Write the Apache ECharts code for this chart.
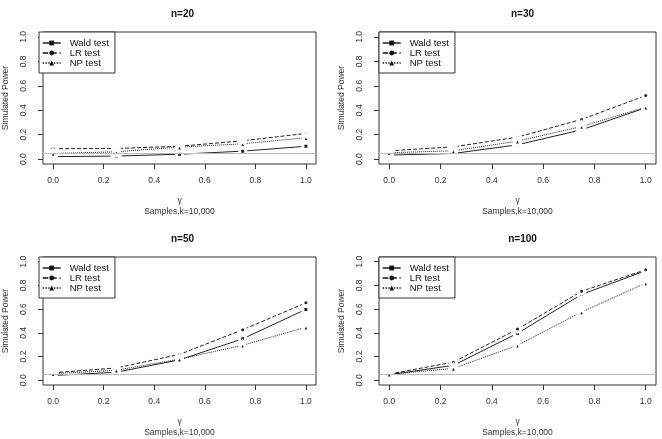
<!DOCTYPE html>
<html>
<head>
<meta charset="utf-8">
<script src="https://cdn.jsdelivr.net/npm/echarts@6/dist/echarts.min.js"></script>
<style>
    html, body { margin: 0; padding: 0; background: #fff; }
    #chart { width: 662px; height: 439px; }
</style>
</head>
<body>
<div id="chart"></div>
<script>
// gamma values at which power was simulated
const gammaValues = [0, 0.25, 0.5, 0.75, 1];
const tickValues = [0, 0.2, 0.4, 0.6, 0.8, 1];
const panelTitles = ["n=20", "n=30", "n=50", "n=100"];
const testNames = ["Wald test", "LR test", "NP test"];
const alphaLevel = 0.05;

// simulated power, one array per test and sample size
const wald20 = [0.02, 0.025, 0.04, 0.065, 0.105];
const lr20 = [0.085, 0.087, 0.105, 0.15, 0.21];
const np20 = [0.045, 0.06, 0.098, 0.125, 0.175];

const wald30 = [0.033, 0.046, 0.117, 0.24, 0.42];
const lr30 = [0.068, 0.1, 0.18, 0.325, 0.52];
const np30 = [0.052, 0.068, 0.147, 0.267, 0.425];

const wald50 = [0.04, 0.068, 0.172, 0.35, 0.598];
const lr50 = [0.063, 0.104, 0.218, 0.426, 0.653];
const np50 = [0.055, 0.085, 0.178, 0.295, 0.448];

const wald100 = [0.046, 0.126, 0.396, 0.724, 0.925];
const lr100 = [0.052, 0.153, 0.432, 0.751, 0.932];
const np100 = [0.05, 0.1, 0.295, 0.576, 0.82];

const panelData = [
    [wald20, lr20, np20],
    [wald30, lr30, np30],
    [wald50, lr50, np50],
    [wald100, lr100, np100]
];

const panels = [
    { left: 39, top: 32 },
    { left: 379, top: 32 },
    { left: 39, top: 257 },
    { left: 379, top: 257 }
];
const gridW = 277, gridH = 132;

const lineTypes = ["solid", "dashed", "dotted"];
const symbols = ["rect", "circle", "triangle"];
const symbolSizes = [6, 6, 7.5];
const ink = "#222";
const font = "Liberation Sans, Arial, sans-serif";

const chart = echarts.init(document.getElementById("chart"), null, { renderer: "canvas" });

let grids = [], xAxes = [], yAxes = [], titles = [], legends = [], series = [];

panels.forEach((p, i) => {
    grids.push({
        left: p.left, top: p.top, width: gridW, height: gridH,
        show: true, borderColor: "#333", borderWidth: 1, backgroundColor: "transparent"
    });
    titles.push({
        text: panelTitles[i],
        left: p.left + gridW / 2, top: p.top - 28, textAlign: "center",
        textStyle: { fontFamily: font, fontSize: 10, fontWeight: "bold", color: "#111" }
    });
    xAxes.push({
        gridIndex: i, type: "value", min: -0.04, max: 1.04,
        name: "γ\nSamples,k=10,000", nameLocation: "middle", nameGap: 31,
        nameTextStyle: { fontFamily: font, fontSize: 8.5, color: "#333", lineHeight: 11 },
        axisLine: { show: false, onZero: false },
        axisTick: { show: true, length: 5, customValues: tickValues, lineStyle: { color: "#333" } },
        axisLabel: {
            customValues: tickValues, margin: 12, fontFamily: font, fontSize: 8.5, color: "#333",
            formatter: v => v.toFixed(1)
        },
        splitLine: { show: false }
    });
    yAxes.push({
        gridIndex: i, type: "value", min: -0.04, max: 1.04,
        name: "Simulated Power", nameLocation: "middle", nameGap: 33, nameRotate: 90,
        nameTextStyle: { fontFamily: font, fontSize: 8.5, color: "#333" },
        axisLine: { show: false, onZero: false },
        axisTick: { show: true, length: 5, customValues: tickValues, lineStyle: { color: "#333" } },
        axisLabel: {
            customValues: tickValues, rotate: 90, margin: 15, fontFamily: font, fontSize: 8.5, color: "#333",
            formatter: v => v.toFixed(1)
        },
        splitLine: { show: false }
    });
    legends.push({
        left: p.left, top: p.top, orient: "vertical",
        data: testNames,
        itemWidth: 18, itemHeight: 6, itemGap: 0,
        padding: [6, 6, 5, 3],
        borderColor: "#333", borderWidth: 1, backgroundColor: "#fff",
        selectedMode: false,
        lineStyle: { width: 1.4, color: "#111" },
        itemStyle: { borderWidth: 0, color: "#111" },
        textStyle: { fontFamily: font, fontSize: 9.5, color: "#111", lineHeight: 10, padding: [0, 0, 0, 4] }
    });
    panelData[i].forEach((vals, k) => {
        series.push({
            name: testNames[k], type: "line",
            xAxisIndex: i, yAxisIndex: i,
            data: gammaValues.map((g, j) => [g, vals[j]]),
            symbol: symbols[k], symbolSize: symbolSizes[k], showSymbol: true,
            // white ring around each point gives the R type="b" gap
            itemStyle: { color: ink, borderColor: "#fff", borderWidth: 3 },
            lineStyle: { color: ink, width: 1, type: lineTypes[k] },
            animation: false, z: 3
        });
    });
    // reference line at the nominal level
    series.push({
        type: "line", xAxisIndex: i, yAxisIndex: i, data: [], z: 4,
        markLine: {
            silent: true, symbol: "none", label: { show: false },
            lineStyle: { color: "#bbb", type: "solid", width: 1 },
            data: [{ yAxis: alphaLevel }], animation: false
        }
    });
});

chart.setOption({
    animation: false,
    title: titles,
    legend: legends,
    grid: grids,
    xAxis: xAxes,
    yAxis: yAxes,
    series: series
});
</script>
</body>
</html>
